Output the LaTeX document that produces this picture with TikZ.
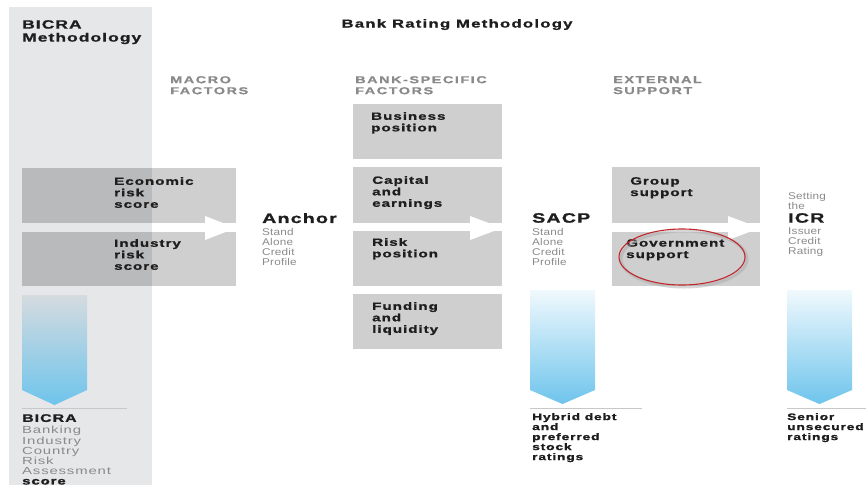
\documentclass[tikz,border=0pt]{standalone}
\usepackage{fontspec}
\setmainfont{Liberation Sans}
\newfontfamily\hb[FakeStretch=1.45,LetterSpace=9,FakeBold=1.2]{Liberation Sans Bold}
\newfontfamily\hbt[FakeStretch=1.45,LetterSpace=11,FakeBold=1.2]{Liberation Sans Bold}
\newfontfamily\hbs[FakeStretch=1.45,LetterSpace=15,FakeBold=0.8]{Liberation Sans Bold}
\newfontfamily\hr[FakeStretch=1.2,LetterSpace=2]{Liberation Sans}
\newfontfamily\hrw[FakeStretch=1.45,LetterSpace=8]{Liberation Sans}
\definecolor{panelc}{HTML}{E6E7E9}
\definecolor{boxc}{HTML}{CFCFCF}
\definecolor{boxdark}{HTML}{B9BABB}
\definecolor{graytxt}{HTML}{8A8A8A}
\definecolor{darktxt}{HTML}{1E1E1E}
\definecolor{bluec}{HTML}{6EC4EC}
\definecolor{bicratop}{HTML}{D5DBDF}
\definecolor{redc}{HTML}{C1272D}
\definecolor{rulec}{HTML}{C8C8C8}
\begin{document}
\begin{tikzpicture}[x=1pt,y=-1pt,
  lbl/.style={anchor=north west, inner sep=0pt, align=left, text=darktxt,
    font=\hb\fontsize{10.5}{11.5}\selectfont},
  head/.style={anchor=north west, inner sep=0pt, align=left, text=graytxt,
    font=\hbs\fontsize{10}{11}\selectfont},
  sub/.style={anchor=north west, inner sep=0pt, align=left, text=graytxt,
    font=\hr\fontsize{9.8}{10}\selectfont},
  big/.style={anchor=north west, inner sep=0pt, text=darktxt,
    font=\hb\fontsize{13.5}{14}\selectfont},
  boxn/.style={anchor=north west, inner sep=0pt, fill=boxc, draw=none},
  rulel/.style={draw=rulec, line width=0.8pt}
]
\useasboundingbox (0,0) rectangle (866,485);
\fill[white] (0,0) rectangle (866,485);
% left panel
\fill[panelc] (9,7) rectangle (152,485);
\node[lbl, font=\hb\fontsize{12}{13}\selectfont] (bicratitle) at (22,20) {BICRA\\Methodology};
\node[anchor=north, inner sep=0pt, text=darktxt, font=\hbt\fontsize{11.5}{12}\selectfont] (title) at (457,19) {Bank Rating Methodology};
% column heads
\node[head] (macro) at (170,76) {MACRO\\FACTORS};
\node[head] (bankspec) at (355,76) {BANK-SPECIFIC\\FACTORS};
\node[head] (external) at (613,76) {EXTERNAL\\SUPPORT};
% macro boxes
\node[boxn, minimum width=214pt, minimum height=55pt] (eco) at (22,168) {};
\node[boxn, minimum width=214pt, minimum height=54pt] (ind) at (22,232) {};
\fill[boxdark] (22,168) rectangle (152,223);
\fill[boxdark] (22,232) rectangle (152,286);
\fill[white] (205,216) -- (236,228) -- (205,240) -- cycle;
\node[lbl] (ecot) at (114,177) {Economic\\risk\\score};
\node[lbl] (indt) at (114,239) {Industry\\risk\\score};
% anchor
\node[big] (anchor) at (262,213) {Anchor};
\node[sub] (anchors) at (262,228) {Stand\\Alone\\Credit\\Profile};
% bank specific boxes
\node[boxn, minimum width=149pt, minimum height=55pt] (bus) at (353,104) {};
\node[boxn, minimum width=149pt, minimum height=56pt] (cap) at (353,167) {};
\node[boxn, minimum width=149pt, minimum height=55pt] (risk) at (353,231) {};
\node[boxn, minimum width=149pt, minimum height=55pt] (fund) at (353,294) {};
\fill[white] (470,216) -- (502,228) -- (470,240) -- cycle;
\node[lbl] (bust) at (371,112) {Business\\position};
\node[lbl] (capt) at (372,176) {Capital\\and\\earnings};
\node[lbl] (riskt) at (372,238) {Risk\\position};
\node[lbl] (fundt) at (372,302) {Funding\\and\\liquidity};
% SACP
\node[big] (sacp) at (532,213) {SACP};
\node[sub] (sacps) at (532,228) {Stand\\Alone\\Credit\\Profile};
% external boxes
\node[boxn, minimum width=148pt, minimum height=56pt] (grp) at (612,167) {};
\node[boxn, minimum width=148pt, minimum height=54pt] (gov) at (612,232) {};
\fill[white] (728,216) -- (760,228) -- (728,240) -- cycle;
\node[lbl] (grpt) at (630,177) {Group\\support};
\node[lbl] (govt) at (626,239) {Government\\support};
\draw[black!35, line width=3pt, opacity=0.45] (684,259) ellipse [x radius=63pt, y radius=28pt];
\draw[redc, line width=1.1pt] (682,257) ellipse [x radius=63pt, y radius=28pt];
% ICR
\node[sub] (setting) at (788,192) {Setting\\the};
\node[big] (icr) at (788,213) {ICR};
\node[sub] (icrs) at (788,228) {Issuer\\Credit\\Rating};
% down arrows
\shade[top color=bicratop, bottom color=bluec] (22,295) -- (87,295) -- (87,390) -- (54.5,405) -- (22,390) -- cycle;
\shade[top color=white!90!bluec, bottom color=bluec] (530,290) -- (595,290) -- (595,390) -- (562.5,404) -- (530,390) -- cycle;
\shade[top color=white!90!bluec, bottom color=bluec] (787,290) -- (852,290) -- (852,390) -- (819.5,404) -- (787,390) -- cycle;
\coordinate (r1a) at (22,408); \coordinate (r1b) at (127,408);
\coordinate (r2a) at (530,408); \coordinate (r2b) at (642,408);
\coordinate (r3a) at (787,408); \coordinate (r3b) at (866,408);
\draw[rulel] (r1a) -- (r1b);
\draw[rulel] (r2a) -- (r2b);
\draw[rulel] (r3a) -- (r3b);
% bottom texts
\node[anchor=north west, inner sep=0pt, align=left, text=graytxt, font=\hrw\fontsize{10.3}{10.1}\selectfont] (bicra) at (22,414)
  {{\hb\fontsize{11}{11}\selectfont\color{darktxt}BICRA}\\[2pt]Banking\\Industry\\Country\\Risk\\Assessment\\{\hb\color{darktxt}score}};
\node[lbl, font=\hb\fontsize{9.5}{10}\selectfont] (hybrid) at (532,413) {Hybrid debt\\and\\preferred\\stock\\ratings};
\node[lbl, font=\hb\fontsize{9.5}{10}\selectfont] (senior) at (787,413) {Senior\\unsecured\\ratings};
\end{tikzpicture}
\end{document}
